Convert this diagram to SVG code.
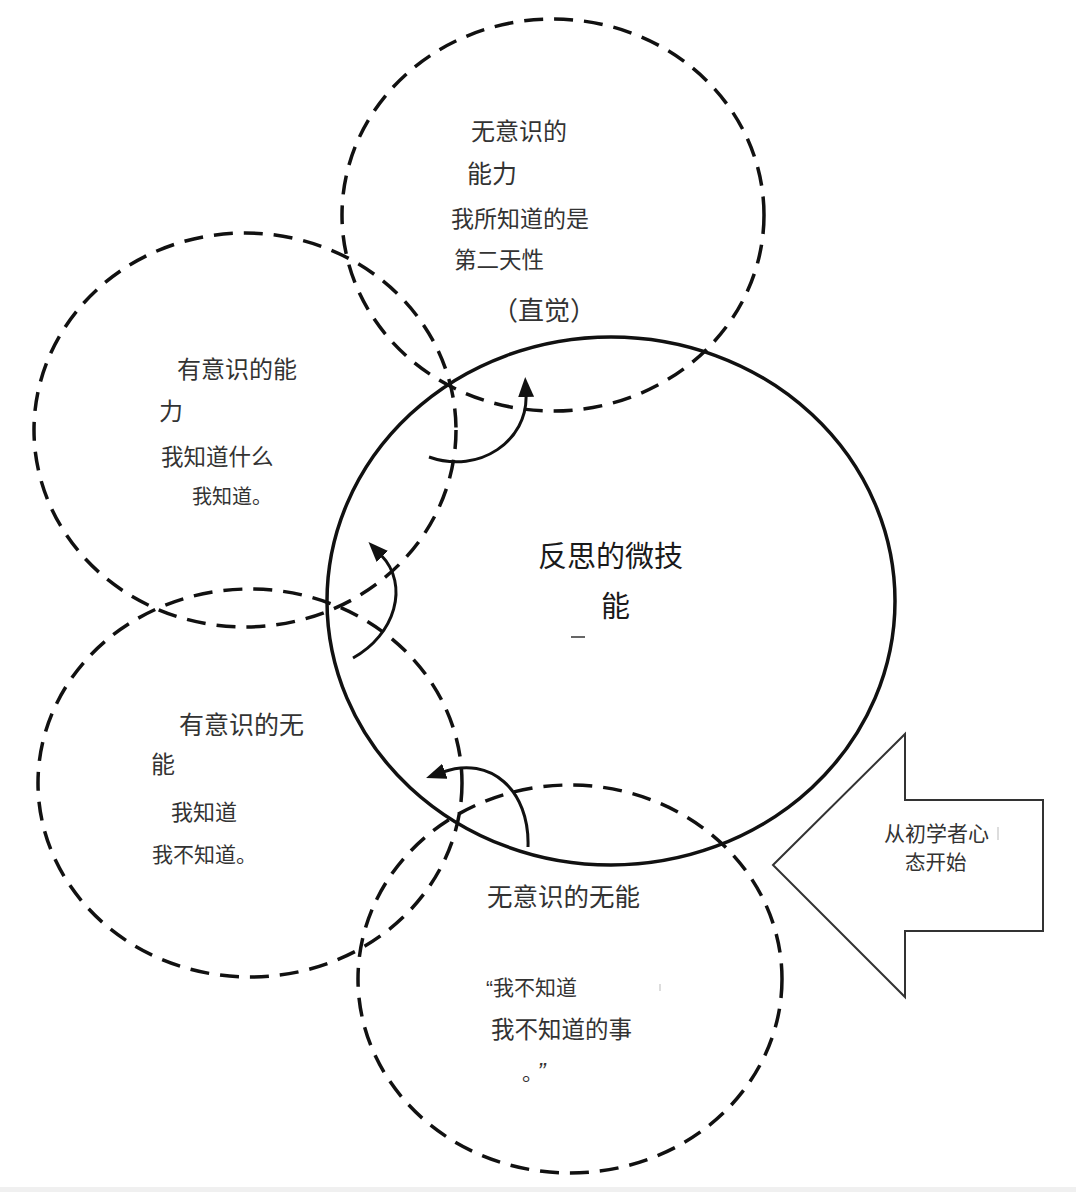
<svg xmlns="http://www.w3.org/2000/svg" width="1076" height="1192" viewBox="0 0 1076 1192">
<style>
.dash{fill:none;stroke:#111;stroke-width:3.5;stroke-dasharray:19 11}
.solid{fill:none;stroke:#111;stroke-width:3.5}
.conn{fill:none;stroke:#111;stroke-width:3}
.t{font-family:"Noto Sans CJK SC","Noto Sans",sans-serif;fill:#333}
.m{font-family:"Noto Sans CJK SC","Noto Sans",sans-serif;fill:#1a1a1a}
.q{font-family:"Liberation Sans",sans-serif}
</style>
<defs>
<marker id="ah" markerUnits="userSpaceOnUse" markerWidth="22" markerHeight="18" refX="2" refY="8" orient="auto">
<path d="M0,0 L20,8 L0,16 Z" fill="#111"/>
</marker>
</defs>
<rect width="1076" height="1192" fill="#fff"/>
<rect x="0" y="1187" width="1076" height="5" fill="#f0f0f0"/>
<g id="node-unconscious-competence">
<ellipse class="dash" cx="553" cy="215" rx="211" ry="196"/>
<text class="t" x="471" y="140" font-size="24">无意识的</text>
<text class="t" x="467" y="183" font-size="25">能力</text>
<text class="t" x="451" y="227" font-size="23">我所知道的是</text>
<text class="t" x="454" y="268" font-size="22.5">第二天性</text>
<text class="t" x="492" y="320" font-size="26">（直觉）</text>
</g>
<g id="node-conscious-competence">
<ellipse class="dash" cx="245" cy="430" rx="211" ry="197"/>
<text class="t" x="177" y="378" font-size="24">有意识的能</text>
<text class="t" x="159" y="420" font-size="24">力</text>
<text class="t" x="161" y="465" font-size="22.5">我知道什么</text>
<text class="t" x="192" y="504" font-size="20">我知道。</text>
</g>
<g id="node-conscious-incompetence">
<ellipse class="dash" cx="250" cy="783" rx="212" ry="194"/>
<text class="t" x="179" y="734" font-size="25">有意识的无</text>
<text class="t" x="151" y="773" font-size="24">能</text>
<text class="t" x="171" y="820" font-size="22">我知道</text>
<text class="t" x="152" y="862" font-size="21">我不知道。</text>
</g>
<g id="node-unconscious-incompetence">
<ellipse class="dash" cx="570" cy="979" rx="212" ry="194"/>
<text class="t" x="487" y="906" font-size="25.5">无意识的无能</text>
<text class="t" x="486" y="995" font-size="21"><tspan class="q">“</tspan>我不知道</text>
<text class="t" x="491" y="1038" font-size="23.5">我不知道的事</text>
<text class="t" x="522" y="1080" font-size="21">。<tspan class="q" dx="5" font-size="24" font-style="italic">”</tspan></text>
<line x1="660" y1="984" x2="660" y2="991" stroke="#bbb" stroke-width="1"/>
</g>
<g id="node-reflective-microskill">
<ellipse class="solid" cx="611" cy="601" rx="284" ry="264"/>
<text class="m" x="538" y="567" font-size="29">反思的微技</text>
<text class="m" x="601" y="617" font-size="29">能</text>
<line x1="571" y1="637" x2="585" y2="637" stroke="#333" stroke-width="1.5"/>
</g>
<g id="node-beginner-mind">
<path d="M773,865 L905,734 L905,800 L1043,800 L1043,931 L905,931 L905,997 Z" fill="#fff" stroke="#333" stroke-width="2"/>
<text class="t" x="884" y="841" font-size="21">从初学者心</text>
<text class="t" x="905" y="870" font-size="20.5">态开始</text>
<line x1="998" y1="827" x2="998" y2="840" stroke="#bbb" stroke-width="1"/>
</g>
<g id="connectors">
<path class="conn" d="M429,457 C480,475 528,440 526,395" marker-end="url(#ah)"/>
<path class="conn" d="M353,658 C395,635 410,585 381,555" marker-end="url(#ah)"/>
<path class="conn" d="M528,847 C530,790 490,755 443,772" marker-end="url(#ah)"/>
</g>
</svg>
